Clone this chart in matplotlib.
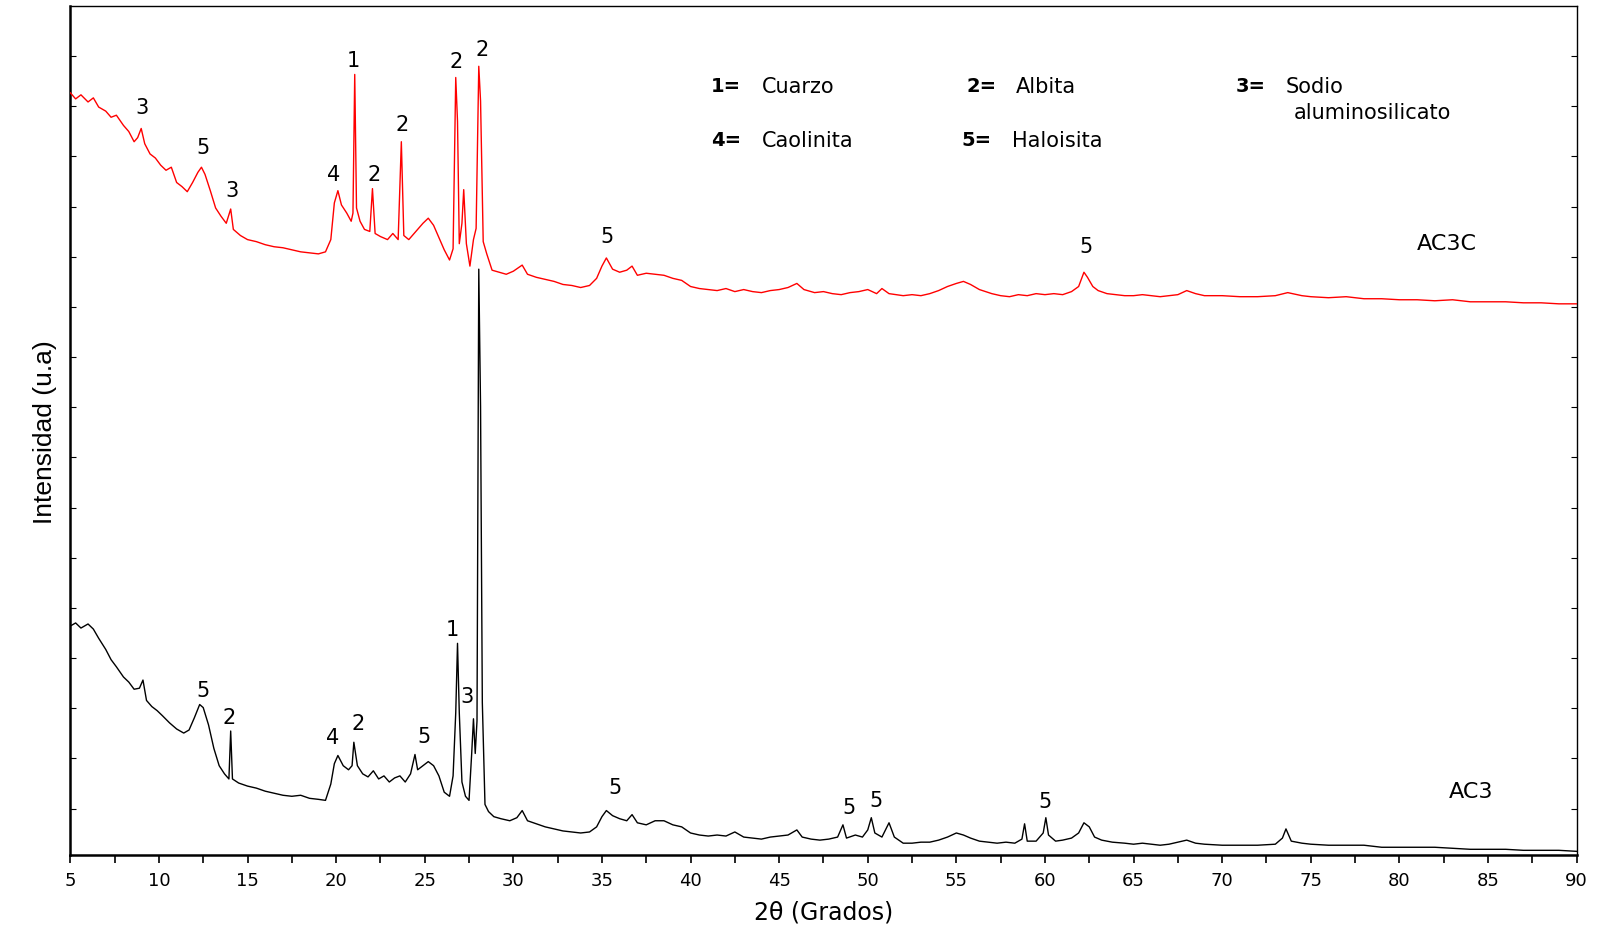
import matplotlib
matplotlib.use("Agg")
import matplotlib.pyplot as plt
import numpy as np
from matplotlib.ticker import MultipleLocator

# AC3C (calcinada) - patrón rojo, intensidad en u.a.
theta_ac3c = [
    5.0, 5.3, 5.6, 6.0, 6.3, 6.6, 7.0, 7.3, 7.6, 8.0, 8.3, 8.6, 8.8, 9.0, 9.2,
    9.5, 9.8, 10.1, 10.4, 10.7, 11.0, 11.3, 11.6, 11.9, 12.2, 12.4, 12.6, 12.9,
    13.2, 13.5, 13.8, 14.05, 14.2, 14.6, 15.0, 15.5, 16.0, 16.5, 17.0, 17.5,
    18.0, 18.5, 19.0, 19.4, 19.7, 19.9, 20.1, 20.3, 20.6, 20.85, 20.95, 21.05,
    21.15, 21.35, 21.6, 21.9, 22.05, 22.2, 22.5, 22.9, 23.2, 23.5, 23.68, 23.82,
    24.1, 24.5, 24.9, 25.2, 25.5, 25.8, 26.1, 26.4, 26.6, 26.75, 26.85, 26.95,
    27.1, 27.2, 27.35, 27.55, 27.75, 27.9, 28.05, 28.15, 28.3, 28.5, 28.8, 29.2,
    29.6, 30.0, 30.5, 30.8, 31.3, 31.8, 32.3, 32.8, 33.3, 33.8, 34.3, 34.7,
    35.0, 35.25, 35.6, 36.0, 36.4, 36.7, 37.0, 37.5, 38.0, 38.5, 39.0, 39.5,
    40.0, 40.5, 41.0, 41.5, 42.0, 42.5, 43.0, 43.5, 44.0, 44.5, 45.0, 45.5,
    46.0, 46.4, 47.0, 47.5, 48.0, 48.5, 49.0, 49.5, 50.0, 50.5, 50.8, 51.2,
    52.0, 52.5, 53.0, 53.5, 54.0, 54.5, 55.0, 55.4, 55.8, 56.3, 57.0, 57.5,
    58.0, 58.5, 59.0, 59.5, 60.0, 60.5, 61.0, 61.5, 61.9, 62.2, 62.4, 62.7,
    63.0, 63.5, 64.0, 64.5, 65.0, 65.5, 66.0, 66.5, 67.0, 67.5, 68.0, 68.5,
    69.0, 70.0, 71.0, 72.0, 73.0, 73.7, 74.5, 75.0, 76.0, 77.0, 78.0, 79.0,
    80.0, 81.0, 82.0, 83.0, 84.0, 85.0, 86.0, 87.0, 88.0, 89.0, 90.0,
]
int_ac3c = [
    702, 696, 700, 693, 697, 688, 684, 678, 680, 670, 664, 654, 658, 667, 652,
    642, 638, 631, 626, 629, 614, 610, 605, 614, 624, 629, 622, 606,
    589, 581, 574, 588, 568, 562, 558, 556, 553, 551, 550, 548,
    546, 545, 544, 546, 558, 594, 606, 592, 584, 576, 584, 720,
    589, 576, 568, 566, 608, 564, 561, 558, 564, 558, 654, 562,
    558, 566, 574, 579, 572, 560, 548, 538, 549, 717, 674, 554,
    574, 607, 554, 532, 558, 569, 728, 694, 556, 544, 528, 526,
    524, 527, 533, 524, 521, 519, 517, 514, 513, 511, 513, 520,
    532, 540, 529, 526, 528, 532, 523, 525, 524, 523, 520, 518,
    512, 510, 509, 508, 510, 507, 509, 507, 506, 508, 509, 511,
    515, 509, 506, 507, 505, 504, 506, 507, 509, 505, 510, 505,
    503, 504, 503, 505, 508, 512, 515, 517, 514, 509, 505, 503,
    502, 504, 503, 505, 504, 505, 504, 507, 512, 526, 521, 512,
    508, 505, 504, 503, 503, 504, 503, 502, 503, 504, 508, 505,
    503, 503, 502, 502, 503, 506, 503, 502, 501, 502, 500, 500,
    499, 499, 498, 499, 497, 497, 497, 496, 496, 495, 495,
]

# AC3 (natural) - patrón negro
theta_ac3 = [
    5.0, 5.3, 5.6, 6.0, 6.3, 6.6, 7.0, 7.3, 7.6, 8.0, 8.3, 8.6, 8.9, 9.1, 9.3,
    9.6, 9.9, 10.2, 10.6, 11.0, 11.4, 11.7, 12.0, 12.3, 12.5, 12.8, 13.1, 13.4,
    13.7, 13.95, 14.05, 14.15, 14.5, 15.0, 15.5, 16.0, 16.5, 17.0, 17.5, 18.0,
    18.5, 19.0, 19.4, 19.7, 19.9, 20.1, 20.4, 20.7, 20.9, 21.0, 21.2, 21.5,
    21.8, 22.1, 22.4, 22.7, 23.0, 23.3, 23.6, 23.9, 24.2, 24.45, 24.6, 24.9,
    25.2, 25.5, 25.8, 26.1, 26.4, 26.6, 26.75, 26.85, 26.95, 27.1, 27.3, 27.5,
    27.65, 27.75, 27.85, 27.95, 28.05, 28.15, 28.25, 28.4, 28.6, 28.9, 29.3,
    29.8, 30.2, 30.5, 30.8, 31.3, 31.8, 32.3, 32.8, 33.3, 33.8, 34.3, 34.7,
    35.0, 35.25, 35.6, 36.0, 36.4, 36.7, 37.0, 37.5, 38.0, 38.5, 39.0, 39.5,
    40.0, 40.5, 41.0, 41.5, 42.0, 42.5, 43.0, 43.5, 44.0, 44.5, 45.0, 45.5,
    46.0, 46.3, 46.8, 47.3, 47.8, 48.3, 48.6, 48.8, 49.3, 49.7, 50.0, 50.2,
    50.4, 50.8, 51.2, 51.5, 52.0, 52.5, 53.0, 53.5, 54.0, 54.5, 55.0, 55.4,
    55.8, 56.3, 56.8, 57.3, 57.8, 58.3, 58.7, 58.85, 59.0, 59.5, 59.9, 60.05,
    60.2, 60.6, 61.0, 61.5, 61.9, 62.2, 62.5, 62.8, 63.2, 63.8, 64.5, 65.0,
    65.5, 66.0, 66.5, 67.0, 67.5, 68.0, 68.5, 69.0, 70.0, 71.0, 72.0, 73.0,
    73.4, 73.6, 73.9, 74.5, 75.0, 76.0, 77.0, 78.0, 79.0, 80.0, 81.0, 82.0,
    83.0, 84.0, 85.0, 86.0, 87.0, 88.0, 89.0, 90.0,
]
int_ac3 = [
    179, 182, 177, 181, 176, 167, 156, 146, 139, 129, 124, 117, 118, 126, 106,
    100, 96, 91, 84, 78, 74, 77, 89, 102, 99, 82, 59, 42,
    34, 29, 76, 29, 25, 22, 20, 17, 15, 13, 12, 13,
    10, 9, 8, 24, 44, 52, 42, 38, 42, 65, 42, 34,
    31, 37, 29, 32, 26, 30, 32, 26, 34, 53, 38, 42,
    46, 42, 32, 16, 12, 32, 94, 162, 94, 26, 12, 8,
    54, 88, 54, 86, 529, 394, 104, 4, -3, -8, -10,
    -12, -9, -2, -12, -15, -18, -20, -22, -23, -24, -23, -18,
    -8, -2, -7, -10, -12, -6, -14, -16, -12, -12, -16, -18,
    -24, -26, -27, -26, -27, -23, -28, -29, -30, -28, -27, -26,
    -21, -28, -30, -31, -30, -28, -16, -29, -26, -28, -21, -9,
    -24, -28, -14, -28, -34, -34, -33, -33, -31, -28, -24, -26,
    -29, -32, -33, -34, -33, -34, -30, -15, -32, -32, -24, -9,
    -26, -32, -31, -29, -24, -14, -18, -28, -31, -33, -34, -35,
    -34, -35, -36, -35, -33, -31, -34, -35, -36, -36, -36, -35,
    -29, -20, -32, -34, -35, -36, -36, -36, -38, -38, -38, -38,
    -39, -40, -40, -40, -41, -41, -41, -42,
]

# etiquetas de fases: (número, 2theta, intensidad)
labels_ac3c = [
    ("3", 9.03, 688), ("5", 12.48, 649), ("3", 14.14, 607), ("4", 19.84, 622),
    ("1", 20.99, 734), ("2", 22.14, 622), ("2", 23.75, 671), ("2", 26.79, 733),
    ("2", 28.23, 745), ("5", 35.3, 562), ("5", 62.33, 552),
]
labels_ac3 = [
    ("5", 12.48, 116), ("2", 13.97, 90), ("4", 19.78, 70), ("2", 21.22, 84),
    ("5", 24.95, 71), ("1", 26.56, 176), ("3", 27.37, 110), ("5", 35.71, 21),
    ("5", 48.93, 1), ("5", 50.49, 8), ("5", 60.03, 7),
]

# leyenda de fases
phase_keys = ["1=", "2=", "3=", "4=", "5="]
phase_names = ["Cuarzo", "Albita", "Sodio\n        aluminosilicato", "Caolinita", "Haloisita"]

FONT = ["DejaVu Sans"]

fig = plt.figure(figsize=(15.98, 9.37), dpi=100)
ax = fig.add_axes([0.044, 0.086, 0.9426, 0.9064])

ax.plot(theta_ac3, int_ac3, color="black", lw=1.0, zorder=2)
ax.plot(theta_ac3c, int_ac3c, color="#ff0000", lw=1.0, zorder=3)

for txt, x, y in labels_ac3c + labels_ac3:
    ax.text(x, y, txt, ha="center", va="center", fontsize=15, family=FONT, zorder=4)

ax.text(82.7, 555, "AC3C", ha="center", va="center", fontsize=16, family=FONT)
ax.text(84.07, 17, "AC3", ha="center", va="center", fontsize=16, family=FONT)

# posiciones de la leyenda (2theta, intensidad)
key_pos = [(41.17, 709), (55.55, 709), (70.79, 709), (41.17, 656), (55.26, 656)]
name_x = [44.05, 58.36, 73.6, 44.05, 58.13]
for key, name, (kx, ky), nx in zip(phase_keys, phase_names, key_pos, name_x):
    ax.text(kx, ky, key, ha="left", va="center", fontsize=14, fontweight="bold", family=FONT)
    if "\n" in name:
        first, second = name.split("\n")
        ax.text(nx, ky, first, ha="left", va="center", fontsize=15, family=FONT)
        ax.text(74.06, 683, second.strip(), ha="left", va="center", fontsize=15, family=FONT)
    else:
        ax.text(nx, ky, name, ha="left", va="center", fontsize=15, family=FONT)

ax.set_xlim(5, 90)
ax.set_ylim(-46, 787)
ax.xaxis.set_major_locator(MultipleLocator(5))
ax.xaxis.set_minor_locator(MultipleLocator(2.5))
ax.set_yticks(np.arange(0, 787, 49.2))
ax.set_yticklabels([])

ax.tick_params(axis="x", which="both", direction="out", length=6, width=1.2,
               labelsize=13, pad=5)
ax.tick_params(axis="y", which="both", direction="in", length=4, width=0.8,
               left=True, right=True)
for lbl in ax.get_xticklabels():
    lbl.set_family(FONT)

for side in ("left", "bottom"):
    ax.spines[side].set_linewidth(1.8)
for side in ("top", "right"):
    ax.spines[side].set_linewidth(1.0)

ax.set_xlabel("2θ (Grados)", fontsize=17, family=FONT, labelpad=8)
ax.set_ylabel("Intensidad (u.a)", fontsize=19,
              family=["Liberation Sans Narrow", "Liberation Sans", "DejaVu Sans"],
              labelpad=6)

fig.savefig("out.png", dpi=100)
